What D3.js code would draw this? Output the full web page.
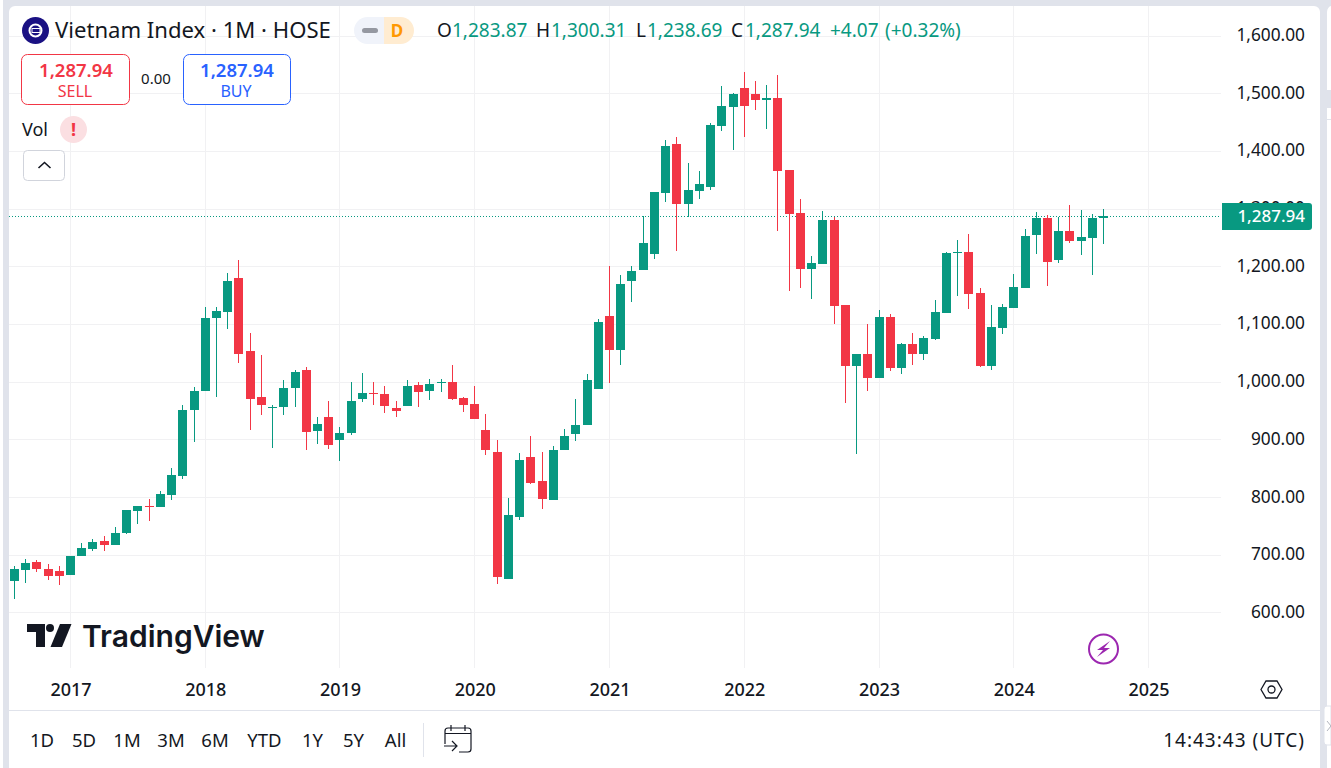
<!DOCTYPE html>
<html>
<head>
<meta charset="utf-8">
<title>Vietnam Index</title>
<script src="https://cdn.jsdelivr.net/npm/d3@7"></script>
<style>
    html, body { margin: 0; padding: 0; background: #e0e3eb; overflow: hidden; }
    svg { display: block; }
    text { font-family: "Noto Sans", sans-serif; fill: #131722; }
</style>
</head>
<body>
<svg id="chart" width="1331" height="768"></svg>
<script>
// monthly candles, Aug 2016 to Sep 2024
var firstMonth = new Date(2016, 7, 1);

var opens = [
    655.3, 674.4, 688.2, 676.1, 672.6, 665.7, 698.6, 710.8, 724.6, 717.7, 738.5, 776.6, 785.3, 783.6,
    804.4, 837.3, 951.7, 984.6, 1111.2, 1121.6, 1180.5, 1054.0, 974.2, 955.2, 956.9, 989.8, 1021.0,
    915.3, 939.6, 899.7, 911.8, 970.8, 981.2, 979.4, 955.2, 958.6, 995.0, 984.6, 998.5, 1000.2, 972.5,
    962.1, 917.0, 878.9, 658.8, 766.2, 870.2, 828.6, 795.7, 882.4, 910.1, 925.7, 988.1, 1114.6, 1055.7,
    1175.3, 1194.4, 1222.1, 1327.9, 1412.8, 1308.8, 1331.3, 1338.3, 1444.0, 1476.9, 1509.9, 1499.5,
    1489.1, 1492.5, 1367.7, 1293.2, 1196.1, 1204.8, 1281.1, 1133.8, 1028.0, 1048.8, 1007.2, 1113.0,
    1024.6, 1066.1, 1048.8, 1074.8, 1119.9, 1223.9, 1225.6, 1154.6, 1028.0, 1093.9, 1128.6, 1163.2,
    1255.1, 1284.6, 1211.7, 1262.0, 1244.7, 1249.9, 1283.87
];
var closes = [
    676.1, 686.5, 676.1, 664.0, 664.0, 698.6, 712.5, 722.9, 717.7, 738.5, 778.4, 785.3, 783.6, 806.1,
    839.0, 951.7, 984.6, 1111.2, 1123.3, 1175.3, 1048.8, 970.8, 960.4, 956.9, 989.8, 1017.6, 913.6,
    927.4, 891.0, 911.8, 967.3, 981.2, 979.4, 958.6, 950.0, 993.3, 982.9, 996.8, 1000.2, 970.8, 960.4,
    936.1, 882.4, 662.2, 769.7, 865.0, 825.2, 797.4, 882.4, 906.6, 925.7, 1003.7, 1104.2, 1055.7, 1170.1,
    1192.7, 1241.2, 1329.6, 1409.3, 1308.8, 1333.1, 1343.5, 1445.7, 1478.7, 1499.5, 1478.7, 1489.1,
    1492.5, 1366.0, 1291.5, 1196.1, 1206.5, 1281.1, 1132.0, 1028.0, 1048.8, 1007.2, 1113.0, 1024.6,
    1066.1, 1048.8, 1076.5, 1121.6, 1223.9, 1225.6, 1152.8, 1028.0, 1095.6, 1130.3, 1165.0, 1253.4,
    1284.6, 1208.3, 1262.0, 1244.7, 1251.6, 1284.6, 1287.94
];
var highs = [
    681.3, 693.4, 691.7, 684.8, 681.3, 698.6, 721.2, 728.1, 733.3, 748.9, 778.4, 785.3, 797.4, 811.3,
    851.2, 960.4, 991.6, 1130.3, 1130.3, 1189.2, 1211.7, 1085.2, 1047.0, 960.4, 1003.7, 1021.0, 1026.2,
    939.6, 967.3, 922.2, 1000.2, 1015.8, 1000.2, 993.3, 967.3, 1003.7, 1000.2, 1005.4, 1005.4, 1029.7,
    974.2, 993.3, 944.8, 899.7, 799.2, 877.2, 906.6, 878.9, 889.3, 918.8, 970.8, 1014.1, 1109.4, 1201.3,
    1185.7, 1201.3, 1288.0, 1329.6, 1419.7, 1424.9, 1379.9, 1366.0, 1449.2, 1513.3, 1501.2, 1537.6,
    1522.0, 1515.1, 1532.4, 1367.7, 1317.5, 1218.7, 1296.7, 1286.3, 1133.8, 1048.8, 1100.8, 1125.1,
    1118.1, 1067.9, 1085.2, 1080.0, 1142.4, 1225.6, 1246.4, 1256.8, 1163.2, 1133.8, 1135.5, 1187.5,
    1265.5, 1295.0, 1289.8, 1286.3, 1307.1, 1298.4, 1291.5, 1300.31
];
var lows = [
    624.1, 651.8, 670.9, 657.0, 648.4, 665.7, 698.6, 707.3, 707.3, 717.7, 736.8, 754.1, 759.3, 783.6,
    795.7, 832.1, 896.3, 984.6, 974.2, 1092.1, 1033.2, 917.0, 943.0, 885.8, 943.0, 956.9, 882.4,
    892.8, 884.1, 863.3, 908.4, 965.6, 960.4, 946.5, 939.6, 958.6, 956.9, 969.0, 982.9, 969.0, 948.2,
    936.1, 873.7, 650.1, 658.8, 761.0, 823.4, 780.1, 795.7, 882.4, 898.0, 925.7, 988.1, 998.5, 1029.7,
    1138.9, 1194.4, 1213.5, 1312.3, 1227.3, 1286.3, 1317.5, 1333.1, 1435.3, 1402.4, 1424.9, 1471.7,
    1438.8, 1262.0, 1158.0, 1163.2, 1144.1, 1204.8, 1100.8, 963.9, 875.5, 984.7, 1007.2, 1019.4,
    1014.1, 1029.7, 1038.4, 1073.1, 1119.9, 1149.4, 1126.8, 1026.3, 1021.1, 1083.5, 1128.6, 1163.2,
    1222.2, 1166.7, 1206.5, 1241.2, 1220.4, 1185.8, 1238.69
];

var priceTicks = [600, 700, 800, 900, 1000, 1100, 1200, 1300, 1400, 1500, 1600];
var yearTicks = [2017, 2018, 2019, 2020, 2021, 2022, 2023, 2024, 2025];
var rangeButtons = ['1D', '5D', '1M', '3M', '6M', 'YTD', '1Y', '5Y', 'All'];
var rangeCenters = [42, 84, 127, 171, 215, 264.5, 312.5, 353.5, 395.5];
var legendParts = [
    ['O', 437, '#131722'], ['1,283.87', 452, '#089981'],
    ['H', 536, '#131722'], ['1,300.31', 551, '#089981'],
    ['L', 636, '#131722'], ['1,238.69', 647, '#089981'],
    ['C', 731, '#131722'], ['1,287.94', 745, '#089981'],
    ['+4.07', 830, '#089981'], ['(+0.32%)', 885, '#089981']
];

var lastPrice = 1287.94;
var green = '#089981', red = '#f23645', blue = '#2962ff', gridColor = '#f1f1f3';

var svg = d3.select('#chart');

// month index -> x. TradingView spaces bars evenly, so no time scale here
var x = d3.scaleLinear().domain([0, opens.length - 1]).range([14.32, 1103.63]);
var y = d3.scaleLinear().domain([600, 1600]).range([612.9, 36]);

var yearIndex = function(year) {
    return (year - firstMonth.getFullYear()) * 12 - firstMonth.getMonth();
};
var px = function(v) { return Math.floor(v); };

// panels
svg.append('rect').attr('x', 0).attr('y', -10).attr('width', 3).attr('height', 800).attr('rx', 4).attr('fill', '#fff');
svg.append('rect').attr('x', 9).attr('y', 6).attr('width', 1311).attr('height', 770).attr('rx', 6).attr('fill', '#fff');
svg.append('rect').attr('x', 1327).attr('y', 6).attr('width', 10).attr('height', 770).attr('rx', 6).attr('fill', '#fff');
svg.append('rect').attr('x', 1327).attr('y', 90).attr('width', 4).attr('height', 18).attr('fill', '#e0e3eb');
svg.append('rect').attr('x', 1327).attr('y', 119).attr('width', 4).attr('height', 1).attr('fill', '#e0e3eb');

// grid
var grid = svg.append('g');
grid.selectAll('.hgrid').data(priceTicks).enter().append('line')
    .attr('class', 'hgrid')
    .attr('x1', 9).attr('x2', 1221)
    .attr('y1', function(d) { return px(y(d)) + 0.5; })
    .attr('y2', function(d) { return px(y(d)) + 0.5; })
    .attr('stroke', gridColor);
grid.selectAll('.vgrid').data(yearTicks).enter().append('line')
    .attr('class', 'vgrid')
    .attr('x1', function(d) { return px(x(yearIndex(d))) + 0.5; })
    .attr('x2', function(d) { return px(x(yearIndex(d))) + 0.5; })
    .attr('y1', 6).attr('y2', 668)
    .attr('stroke', gridColor);

// axes
var yAxis = svg.append('g')
    .attr('transform', 'translate(1305,0)')
    .call(d3.axisRight(y).tickValues(priceTicks).tickFormat(d3.format(',.2f')).tickSize(0));
yAxis.select('.domain').remove();
yAxis.selectAll('text')
    .attr('x', 0).attr('y', -1)
    .attr('text-anchor', 'end')
    .style('font-family', '"Noto Sans", sans-serif')
    .style('font-size', '17.3px')
    .style('fill', '#131722');

var xAxis = svg.append('g')
    .attr('transform', 'translate(0,683)')
    .call(d3.axisBottom(x)
        .tickValues(yearTicks.map(yearIndex))
        .tickFormat(function(d) { return yearTicks[Math.round((d - yearIndex(2017)) / 12)]; })
        .tickSize(0));
xAxis.select('.domain').remove();
xAxis.selectAll('text')
    .attr('y', 0)
    .style('font-family', '"Noto Sans", sans-serif')
    .style('font-size', '18px')
    .style('font-weight', 500)
    .style('fill', '#131722');

// last price line
svg.append('line')
    .attr('x1', 9).attr('x2', 1221)
    .attr('y1', px(y(lastPrice)) + 0.5).attr('y2', px(y(lastPrice)) + 0.5)
    .attr('stroke', green)
    .attr('stroke-dasharray', '1 2');

// candles
var candles = svg.append('g').selectAll('.candle')
    .data(opens.map(function(o, i) {
        return {i: i, open: o, close: closes[i], high: highs[i], low: lows[i]};
    }))
    .enter().append('g')
    .attr('class', 'candle')
    .attr('transform', function(d) { return 'translate(' + px(x(d.i)) + ',0)'; });

var candleColor = function(d) { return d.close >= d.open ? green : red; };

candles.append('rect')
    .attr('x', 0).attr('width', 1)
    .attr('y', function(d) { return Math.round(y(d.high)); })
    .attr('height', function(d) { return Math.max(1, Math.round(y(d.low)) - Math.round(y(d.high))); })
    .attr('fill', candleColor);
candles.append('rect')
    .attr('x', -4).attr('width', 9)
    .attr('y', function(d) { return Math.round(y(Math.max(d.open, d.close))); })
    .attr('height', function(d) {
        return Math.max(1, Math.round(y(Math.min(d.open, d.close))) - Math.round(y(Math.max(d.open, d.close))));
    })
    .attr('fill', candleColor);

// last price tag
svg.append('path')
    .attr('d', 'M1222 203H1309a3 3 0 0 1 3 3V227a3 3 0 0 1 -3 3H1222Z')
    .attr('fill', green);
svg.append('text')
    .attr('x', 1305).attr('y', 222)
    .attr('text-anchor', 'end')
    .style('font-size', '17px').style('font-weight', 500).style('fill', '#fff')
    .text('1,287.94');

// header
svg.append('circle').attr('cx', 35.5).attr('cy', 30.5).attr('r', 13.5).attr('fill', '#1a1183');
svg.append('circle').attr('cx', 35.5).attr('cy', 30.5).attr('r', 6).attr('fill', 'none').attr('stroke', '#fff').attr('stroke-width', 2);
svg.append('rect').attr('x', 32).attr('y', 28.5).attr('width', 8).attr('height', 4).attr('fill', '#1a1183').attr('stroke', '#fff');
svg.append('text').attr('x', 55).attr('y', 38).style('font-size', '22.1px')
    .text('Vietnam Index · 1M · HOSE');

svg.append('path').attr('d', 'M384 17H367.5a13.5 13.5 0 0 0 0 27H384Z').attr('fill', '#f0f3fa');
svg.append('path').attr('d', 'M384 17H400.5a13.5 13.5 0 0 1 0 27H384Z').attr('fill', '#ffecd1');
svg.append('rect').attr('x', 362).attr('y', 28).attr('width', 16).attr('height', 5).attr('rx', 2.5).attr('fill', '#9598a1');
svg.append('text').attr('x', 397).attr('y', 37).attr('text-anchor', 'middle')
    .style('font-size', '17px').style('font-weight', 700).style('fill', '#ff9800').text('D');

svg.append('g').selectAll('text').data(legendParts).enter().append('text')
    .attr('x', function(d) { return d[1]; })
    .attr('y', 37)
    .style('font-size', '19px')
    .style('fill', function(d) { return d[2]; })
    .text(function(d) { return d[0]; });

// sell / buy
svg.append('rect').attr('x', 21.5).attr('y', 54.5).attr('width', 108).attr('height', 50).attr('rx', 6)
    .attr('fill', '#fff').attr('stroke', red);
svg.append('text').attr('x', 76).attr('y', 77).attr('text-anchor', 'middle')
    .style('font-size', '18.5px').style('font-weight', 600).style('fill', red).text('1,287.94');
svg.append('text').attr('x', 75).attr('y', 97).attr('text-anchor', 'middle')
    .style('font-size', '16px').style('fill', red).text('SELL');
svg.append('text').attr('x', 156).attr('y', 84).attr('text-anchor', 'middle')
    .style('font-size', '15px').text('0.00');
svg.append('rect').attr('x', 183.5).attr('y', 54.5).attr('width', 107).attr('height', 50).attr('rx', 6)
    .attr('fill', '#fff').attr('stroke', blue);
svg.append('text').attr('x', 237).attr('y', 77).attr('text-anchor', 'middle')
    .style('font-size', '18.5px').style('font-weight', 600).style('fill', blue).text('1,287.94');
svg.append('text').attr('x', 236).attr('y', 97).attr('text-anchor', 'middle')
    .style('font-size', '16px').style('fill', blue).text('BUY');

// vol row
svg.append('text').attr('x', 22).attr('y', 135.5).style('font-size', '18px').text('Vol');
svg.append('circle').attr('cx', 73.5).attr('cy', 129.5).attr('r', 13.5).attr('fill', '#fbdfe2');
svg.append('text').attr('x', 73.5).attr('y', 136).attr('text-anchor', 'middle')
    .style('font-size', '18px').style('font-weight', 700).style('fill', red).text('!');
svg.append('rect').attr('x', 23.5).attr('y', 150.5).attr('width', 41).attr('height', 30).attr('rx', 4)
    .attr('fill', '#fff').attr('stroke', '#d1d4dc');
svg.append('path').attr('d', 'M38.5 168L44.5 162.5L50.5 168').attr('fill', 'none').attr('stroke', '#131722').attr('stroke-width', 1.6);

// tradingview logo
svg.append('path').attr('d', 'M27 624H45V647H36V632H27Z').attr('fill', '#131722');
svg.append('circle').attr('cx', 50).attr('cy', 628).attr('r', 4).attr('fill', '#131722');
svg.append('path').attr('d', 'M60 624H71.5L62 647H50.5Z').attr('fill', '#131722');
svg.append('text').attr('x', 82).attr('y', 647)
    .style('font-family', 'Inter, sans-serif')
    .style('font-size', '30px').style('font-weight', 600)
    .text('TradingView');

// lightning badge
svg.append('circle').attr('cx', 1103.5).attr('cy', 649).attr('r', 14.5)
    .attr('fill', '#fff').attr('stroke', '#9c27b0').attr('stroke-width', 2);
svg.append('path').attr('d', 'M1110 641L1097 650H1103L1097 657L1110 648H1104Z').attr('fill', '#9c27b0');

// hexagon settings
svg.append('path').attr('d', 'M1261 689.5L1266 681H1277L1282 689.5L1277 698H1266Z')
    .attr('fill', 'none').attr('stroke', '#131722').attr('stroke-width', 1.3);
svg.append('circle').attr('cx', 1271.5).attr('cy', 689.5).attr('r', 3.5)
    .attr('fill', 'none').attr('stroke', '#131722').attr('stroke-width', 1.3);

// bottom bar
svg.append('line').attr('x1', 9).attr('x2', 1320).attr('y1', 710.5).attr('y2', 710.5).attr('stroke', '#e0e3eb');
svg.append('g').selectAll('text').data(rangeButtons).enter().append('text')
    .attr('x', function(d, i) { return rangeCenters[i]; })
    .attr('y', 747)
    .attr('text-anchor', 'middle')
    .style('font-size', '18.5px')
    .text(function(d) { return d; });
svg.append('line').attr('x1', 423.5).attr('x2', 423.5).attr('y1', 723).attr('y2', 757).attr('stroke', '#e0e3eb');
svg.append('path')
    .attr('d', 'M445 744V731a3 3 0 0 1 3-3H468a3 3 0 0 1 3 3V749a3 3 0 0 1-3 3H459M445 733.5H471M451 725V731M465 725V731M444 746H456M452 741L457 746L452 751')
    .attr('fill', 'none').attr('stroke', '#131722').attr('stroke-width', 1.2);
svg.append('text').attr('x', 1305).attr('y', 747).attr('text-anchor', 'end')
    .style('font-size', '19px').style('letter-spacing', '1px').text('14:43:43 (UTC)');

// side handle
svg.append('path').attr('d', 'M1331 706H1327a3 3 0 0 0-3 3V742a3 3 0 0 0 3 3H1331Z').attr('fill', '#fff').attr('stroke', '#e0e3eb');
svg.append('path').attr('d', 'M1327 721L1331 726L1327 731').attr('fill', 'none').attr('stroke', '#b2b5be');
</script>
</body>
</html>
